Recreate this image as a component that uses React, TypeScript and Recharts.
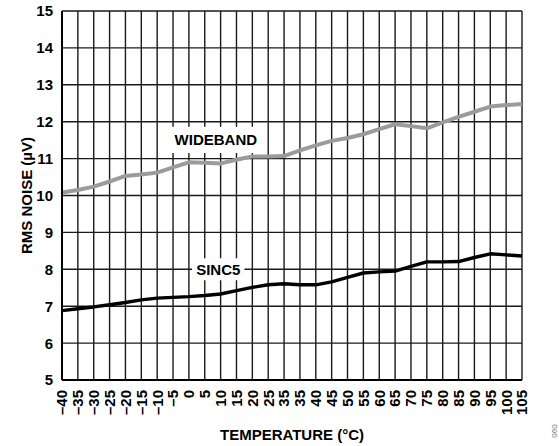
import { LineChart, Line, XAxis, YAxis, CartesianGrid, ReferenceArea } from "recharts";

const temps = [-40, -35, -30, -25, -20, -15, -10, -5, 0, 5, 10, 15, 20, 25, 30, 35, 40, 45, 50, 55, 60, 65, 70, 75, 80, 85, 90, 95, 100, 105];
// tick labels as printed (note the repeated 35)
const xTickLabels = ["\u201340", "\u201335", "\u201330", "\u201325", "\u201320", "\u201315", "\u201310", "\u20135", "0", "5", "10", "15", "20", "25", "35", "35", "40", "45", "50", "55", "60", "65", "70", "75", "80", "85", "90", "95", "100", "105"];
const wideband = [10.08, 10.15, 10.24, 10.38, 10.53, 10.57, 10.62, 10.76, 10.9, 10.89, 10.87, 10.97, 11.06, 11.06, 11.07, 11.22, 11.36, 11.48, 11.56, 11.66, 11.8, 11.93, 11.88, 11.82, 11.98, 12.13, 12.27, 12.41, 12.45, 12.48];
const sinc5 = [6.88, 6.93, 6.98, 7.04, 7.1, 7.17, 7.22, 7.24, 7.26, 7.29, 7.33, 7.42, 7.51, 7.58, 7.61, 7.58, 7.58, 7.66, 7.78, 7.9, 7.93, 7.95, 8.08, 8.2, 8.2, 8.21, 8.32, 8.42, 8.39, 8.36];
const yTicks = [5, 6, 7, 8, 9, 10, 11, 12, 13, 14, 15];

const data = temps.map((t, i) => ({ t, wideband: wideband[i], sinc5: sinc5[i] }));

const FONT = '"Liberation Sans", Arial, sans-serif';

function XTick(props: any) {
    const { x, payload } = props;
    const label = xTickLabels[temps.indexOf(payload.value)];
    return (
        <text x={x} y={390} transform={`rotate(-90 ${x} 390)`} textAnchor="end" dy="0.36em"
            fontSize={15} fontWeight="bold" fontFamily={FONT} fill="#000">
            {label}
        </text>
    );
}

function YTick(props: any) {
    const { y, payload } = props;
    return (
        <text x={53} y={y} dy="0.36em" textAnchor="end" fontSize={15} fontWeight="bold" fontFamily={FONT} fill="#000">
            {payload.value}
        </text>
    );
}

export default function App() {
    return (
        <div style={{ position: "absolute", left: 0, top: 0, width: 559, height: 446, background: "#fff", fontFamily: FONT }}>
            <LineChart width={559} height={446} data={data} margin={{ top: 11, right: 37, bottom: 26, left: 8 }}>
                <CartesianGrid stroke="#1a1a1a" strokeWidth={1.4} />
                <ReferenceArea x1={-6} x2={23} y1={11.15} y2={11.86} fill="#fff" fillOpacity={1} stroke="none"
                    label={{ value: "WIDEBAND", position: "center", fontSize: 15, fontWeight: "bold", fill: "#000", fontFamily: FONT }} />
                <ReferenceArea x1={1} x2={17.5} y1={7.7} y2={8.3} fill="#fff" fillOpacity={1} stroke="none"
                    label={{ value: "SINC5", position: "center", fontSize: 15, fontWeight: "bold", fill: "#000", fontFamily: FONT }} />
                <XAxis dataKey="t" type="number" domain={[-40, 105]} ticks={temps} interval={0} height={40}
                    tick={<XTick />} tickLine={false} axisLine={{ stroke: "#000", strokeWidth: 2 }} />
                <YAxis type="number" domain={[5, 15]} ticks={yTicks} interval={0} width={54}
                    tick={<YTick />} tickLine={false} axisLine={{ stroke: "#000", strokeWidth: 2 }} />
                <Line type="linear" dataKey="wideband" stroke="#9b9b9b" strokeWidth={4} dot={false} strokeLinejoin="round" isAnimationActive={false} />
                <Line type="linear" dataKey="sinc5" stroke="#000" strokeWidth={3.4} dot={false} strokeLinejoin="round" isAnimationActive={false} />
            </LineChart>
            <svg width={559} height={446} style={{ position: "absolute", left: 0, top: 0, pointerEvents: "none" }}>
                <text x={32} y={195.5} transform="rotate(-90 32 195.5)" textAnchor="middle" fontSize={15} fontWeight="bold" fontFamily={FONT} fill="#000">
                    RMS NOISE (µV)
                </text>
                <text x={292} y={440} textAnchor="middle" fontSize={15} fontWeight="bold" fontFamily={FONT} fill="#000">
                    TEMPERATURE (°C)
                </text>
                <text x={554} y={431} transform="rotate(-90 554 431)" textAnchor="middle" dy="0.36em" fontSize={8} fontFamily={FONT} fill="#777">
                    060
                </text>
            </svg>
        </div>
    );
}
